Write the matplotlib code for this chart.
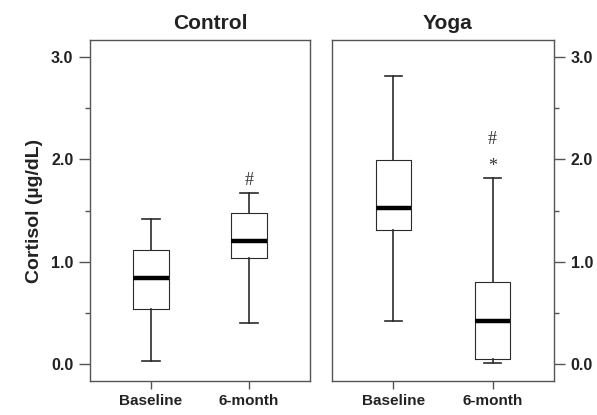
import numpy as np
import matplotlib
matplotlib.use('Agg')
import matplotlib.pyplot as plt
from matplotlib.ticker import MultipleLocator, FormatStrFormatter

# values (ug/dL)
groups = ['Control', 'Yoga']
timepoints = ['Baseline', '6-month']
whislo = [[0.03, 0.40], [0.42, 0.01]]
q1 = [[0.54, 1.04], [1.31, 0.05]]
med = [[0.84, 1.20], [1.52, 0.42]]
q3 = [[1.11, 1.48], [1.99, 0.80]]
whishi = [[1.42, 1.67], [2.81, 1.82]]
# significance marks: (group, timepoint index, symbol, y)
marks = [(0, 1, '#', 1.79), (1, 1, '#', 2.19), (1, 1, '*', 1.93)]

plt.rcParams['font.family'] = ['Liberation Sans', 'DejaVu Sans']
ink = '#2b2b2b'
frame = '#555555'

fig = plt.figure(figsize=(5.97, 4.15), dpi=100)
axes = [fig.add_axes([0.1508, 0.0819, 0.3685, 0.8217]),
        fig.add_axes([0.5561, 0.0819, 0.3719, 0.8217])]
title_x = [0.545, 0.518]

for g, ax in enumerate(axes):
    stats = []
    for t in range(2):
        stats.append(dict(whislo=whislo[g][t], q1=q1[g][t], med=med[g][t],
                          q3=q3[g][t], whishi=whishi[g][t], fliers=[]))
    ax.bxp(stats, positions=[1, 2], widths=0.36, showfliers=False,
           boxprops=dict(color=ink, linewidth=0.8),
           whiskerprops=dict(color=ink, linewidth=1.2),
           capprops=dict(color=ink, linewidth=1.2),
           medianprops=dict(color='black', linewidth=3.2, solid_capstyle='butt'))
    ax.set_xlim(0.38, 2.62)
    ax.set_ylim(-0.166, 3.166)
    ax.set_xticks([1, 2])
    ax.set_xticklabels(timepoints, fontsize=11, fontweight='bold')
    ax.yaxis.set_major_locator(MultipleLocator(1.0))
    ax.yaxis.set_minor_locator(MultipleLocator(0.5))
    ax.yaxis.set_major_formatter(FormatStrFormatter('%.1f'))
    for lab in ax.get_yticklabels():
        lab.set_fontweight('bold')
    ax.tick_params(axis='y', which='major', length=8, width=1, color=frame,
                   labelsize=11.5, pad=4, labelcolor='#222222')
    ax.tick_params(axis='y', which='minor', length=3.5, width=1, color=frame)
    ax.tick_params(axis='x', length=6, width=1, color=frame, pad=3,
                   labelcolor='#222222')
    for sp in ax.spines.values():
        sp.set_color(frame)
        sp.set_linewidth(1.0)
    ax.set_title(groups[g], fontsize=15, fontweight='bold', pad=8,
                 color='#222222', x=title_x[g])

axes[0].set_ylabel('Cortisol (µg/dL)', fontsize=14, fontweight='bold',
                   color='#222222', labelpad=6)
axes[1].yaxis.tick_right()
axes[1].tick_params(axis='y', which='both', left=False, right=True)
for lab in axes[1].get_yticklabels():
    lab.set_fontweight('bold')

for g, t, sym, y in marks:
    axes[g].text(t + 1, y, sym, ha='center', va='center', fontsize=13,
                 family=['Liberation Serif', 'DejaVu Serif'], color='#333333')

fig.savefig('out.png', dpi=100)
